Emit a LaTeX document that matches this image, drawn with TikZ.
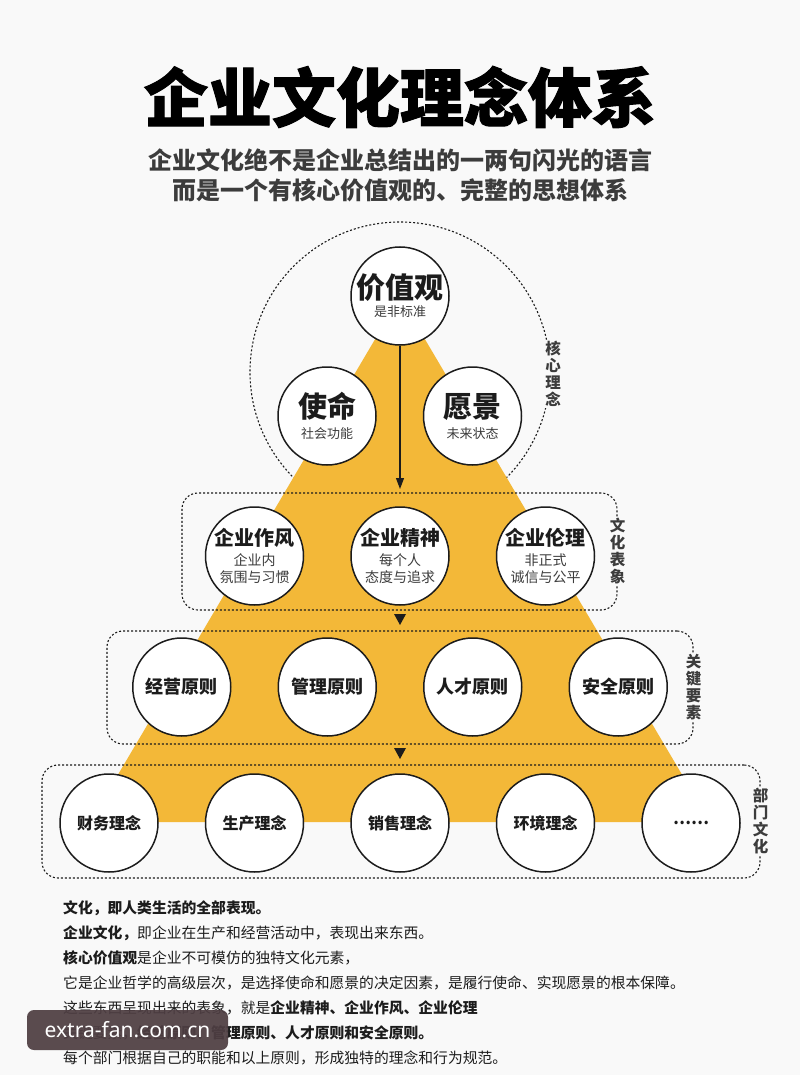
\documentclass[tikz,border=0pt]{standalone}
\usepackage{fontspec}
\setmainfont{Noto Sans CJK SC}
\newfontfamily\heavyfont{Noto Sans CJK SC}[BoldFeatures={FakeBold=1.6}]
\newfontfamily\wmfont{Noto Sans}
\usetikzlibrary{arrows.meta}
\definecolor{yel}{RGB}{243,184,56}
\definecolor{bg}{RGB}{249,249,249}
\definecolor{ink}{RGB}{28,28,28}
\definecolor{subink}{RGB}{60,60,60}
\definecolor{wm}{RGB}{78,62,66}
\begin{document}
\begin{tikzpicture}[x=1pt,y=-1pt,
  circ/.style={circle, draw=ink, line width=1.5pt, fill=white, minimum size=98pt, inner sep=0pt, align=center, text=ink},
  dline/.style={draw=ink, line width=1.1pt, dash pattern=on 2pt off 2pt},
  dbox/.style={dline, rectangle, rounded corners=16pt, inner sep=0pt},
  side/.style={fill=bg, text=subink, inner sep=1.5pt, align=center, font=\fontsize{15.5}{17}\selectfont\bfseries},
  bodytext/.style={anchor=west, inner sep=0pt, text=ink, font=\fontsize{14.8}{16}\selectfont},
  midtext/.style={font=\fontsize{18}{18}\selectfont\bfseries},
  lowtext/.style={font=\fontsize{16}{16}\selectfont\bfseries}
]
\fill[bg] (0,0) rectangle (800,1075);
\useasboundingbox (0,0) rectangle (800,1075);

% title
\node[font=\heavyfont\bfseries\fontsize{64}{70}\selectfont, text=black] (title) at (400,97) {企业文化理念体系};
\node[font=\fontsize{24}{24}\selectfont\bfseries, text=subink] (sub1) at (400,160) {企业文化绝不是企业总结出的一两句闪光的语言};
\node[font=\fontsize{24}{24}\selectfont\bfseries, text=subink] (sub2) at (400,190) {而是一个有核心价值观的、完整的思想体系};

% core dashed circle (behind the pyramid)
\begin{scope}
\clip (0,200) rectangle (800,492);
\draw[dline] (400,372) circle[radius=150];
\end{scope}

% yellow pyramid
\coordinate (apex) at (400,297);
\coordinate (bl) at (90,822);
\coordinate (br) at (710,822);
\fill[yel] (apex) -- (br) -- (bl) -- cycle;

% dashed boxes
\node[dbox, minimum width=435pt, minimum height=117pt] (box2) at (399.5,551.5) {};
\node[dbox, minimum width=586pt, minimum height=113pt] (box3) at (400,687.5) {};
\node[dbox, minimum width=718pt, minimum height=113pt] (box4) at (401,821.5) {};

% side labels
\node[side] (l1) at (553,374) {核\\心\\理\\念};
\node[side] (l2) at (box2.east) {文\\化\\表\\象};
\node[side] (l3) at (box3.east) {关\\键\\要\\素};
\node[side] (l4) at (box4.east) {部\\门\\文\\化};

% core circles
\node[circ, font=\fontsize{13}{15}\selectfont] (val) at (400,296) {{\fontsize{29}{29}\selectfont\bfseries 价值观}\\[3pt]{\color{subink}是非标准}};
\node[circ, font=\fontsize{13}{15}\selectfont] (mis) at (327,416) {{\fontsize{29}{29}\selectfont\bfseries 使命}\\[6pt]{\color{subink}社会功能}};
\node[circ, font=\fontsize{13}{15}\selectfont] (vis) at (472.5,416) {{\fontsize{29}{29}\selectfont\bfseries 愿景}\\[6pt]{\color{subink}未来状态}};

% arrow
\coordinate (arrtip) at (400,489);
\draw[ink, line width=1.1pt, -{Triangle[length=11pt,width=8pt]}] (val.south) -- (arrtip);

% row 2
\node[circ, font=\fontsize{14}{17}\selectfont] (zf) at (254.5,556) {{\fontsize{20}{20}\selectfont\bfseries 企业作风}\\[3pt]{\color{subink}企业内}\\{\color{subink}氛围与习惯}};
\node[circ, font=\fontsize{14}{17}\selectfont] (js) at (400,556) {{\fontsize{20}{20}\selectfont\bfseries 企业精神}\\[3pt]{\color{subink}每个人}\\{\color{subink}态度与追求}};
\node[circ, font=\fontsize{14}{17}\selectfont] (ll) at (545.5,556) {{\fontsize{20}{20}\selectfont\bfseries 企业伦理}\\[3pt]{\color{subink}非正式}\\{\color{subink}诚信与公平}};

% small arrows
\coordinate (d1) at (400,619);
\coordinate (d2) at (400,753);
\fill[ink] (d1) ++(-6,-5) -- ++(12,0) -- ++(-6,11) -- cycle;
\fill[ink] (d2) ++(-6,-5) -- ++(12,0) -- ++(-6,11) -- cycle;

% row 3
\node[circ, midtext] (jy) at (181.75,687) {经营原则};
\node[circ, midtext] (gl) at (327.25,687) {管理原则};
\node[circ, midtext] (rc) at (472.75,687) {人才原则};
\node[circ, midtext] (aq) at (618.25,687) {安全原则};

% row 4
\node[circ, lowtext] (cw) at (109,823) {财务理念};
\node[circ, lowtext] (sc) at (254.5,823) {生产理念};
\node[circ, lowtext] (xs) at (400,823) {销售理念};
\node[circ, lowtext] (hj) at (545.5,823) {环境理念};
\node[circ, lowtext] (more) at (691,823) {……};

% bottom text
\node[bodytext] (t1) at (63,908) {\bfseries 文化，即人类生活的全部表现。};
\node[bodytext] (t2) at (63,933) {\textbf{企业文化，}即企业在生产和经营活动中，表现出来东西。};
\node[bodytext] (t3) at (63,958) {\textbf{核心价值观}是企业不可模仿的独特文化元素，};
\node[bodytext] (t4) at (63,983) {它是企业哲学的高级层次，是选择使命和愿景的决定因素，是履行使命、实现愿景的根本保障。};
\node[bodytext] (t5) at (63,1008) {这些东西呈现出来的表象，就是\textbf{企业精神、企业作风、企业伦理}};
\node[bodytext] (t6) at (63,1033) {关键要素，\textbf{经营原则、管理原则、人才原则和安全原则。}};
\node[bodytext] (t7) at (63,1058) {每个部门根据自己的职能和以上原则，形成独特的理念和行为规范。};

% watermark
\node[fill=wm, fill opacity=0.93, text opacity=1, text=white, rounded corners=7pt, minimum width=201pt, minimum height=40pt, inner sep=0pt, font=\wmfont\fontsize{21}{21}\selectfont] (wm) at (127.5,1030) {extra-fan.com.cn};
\end{tikzpicture}
\end{document}
